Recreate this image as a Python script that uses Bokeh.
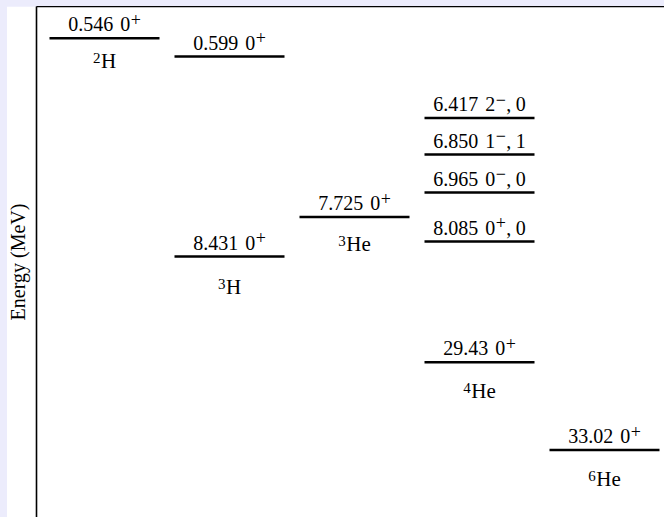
from bokeh.plotting import figure
from bokeh.models import Range1d, LinearAxis, FixedTicker, ColumnDataSource
from bokeh.embed import file_html
from bokeh.resources import INLINE
from bokeh.core.properties import value

# Nuclides (columns) and their label positions on the diagram
nuclide_mass = ["2", "3", "3", "4", "6"]
nuclide_symbol = ["H", "H", "He", "He", "He"]
nuclide_col = [0, 1, 2, 3, 4]
nuclide_label_pos = [54, 280.5, 237.5, 384, 472.5]

# Levels: column, energy (MeV), spin J, parity, isospin T, diagram position
level_col = [0, 1, 1, 2, 3, 3, 3, 3, 3, 4]
level_energy = ["0.546", "0.599", "8.431", "7.725", "6.417", "6.850", "6.965", "8.085", "29.43", "33.02"]
level_J = ["0", "0", "0", "0", "2", "1", "0", "0", "0", "0"]
level_parity = ["+", "+", "+", "+", "−", "−", "−", "+", "+", "+"]
level_T = ["", "", "", "", "0", "1", "0", "0", "", ""]
level_pos = [31.7, 50, 250, 210.5, 111.5, 148, 186, 235, 355.7, 443.5]

y_label = "Energy (MeV)"

# ---- style constants ----
FONT_NAME = "Liberation Serif"
FONT = value(FONT_NAME)
MAIN = 20      # px, level labels
NUC = 21       # px, nuclide labels
SUP = 15       # px, superscript mass numbers
SIGN = 18      # px, superscript parity signs
HALF = 0.44    # half width of a level line (column units)
GAP_ABOVE = 14
ADV = {d: 0.5 for d in "0123456789"}
ADV.update({".": 0.25, ",": 0.25, " ": 0.25, "+": 0.564, "−": 0.564, "H": 0.722, "e": 0.444})


def width(s, size):
    return sum(ADV[c] for c in s) * size


main_parts = dict(x=[], y=[], dx=[], t=[])
sign_parts = dict(x=[], y=[], dx=[], t=[])
sup_parts = dict(x=[], y=[], dx=[], t=[])
nuc_parts = dict(x=[], y=[], dx=[], t=[])

for c, e, j, par, t, pos in zip(level_col, level_energy, level_J, level_parity, level_T, level_pos):
    pieces = [(e, "m"), (7, "gap"), (j, "m"), (0.5, "gap"), (par, "s")]
    if t:
        pieces += [(0.5, "gap"), (",", "m"), (4.5, "gap"), (t, "m")]
    total = 0
    for s, kind in pieces:
        total += s if kind == "gap" else width(s, MAIN if kind == "m" else SIGN)
    off = -total / 2
    ly = pos - GAP_ABOVE
    for s, kind in pieces:
        if kind == "gap":
            off += s
            continue
        if kind == "m":
            d, w = main_parts, width(s, MAIN)
            d["y"].append(ly)
        else:
            d, w = sign_parts, width(s, SIGN)
            d["y"].append(ly - 5)
        d["x"].append(c)
        d["dx"].append(off)
        d["t"].append(s)
        off += w

for c, m, sym, pos in zip(nuclide_col, nuclide_mass, nuclide_symbol, nuclide_label_pos):
    wm = width(m, SUP)
    ws = width(sym, NUC)
    off = -(wm + ws + 0.5) / 2
    sup_parts["x"].append(c)
    sup_parts["y"].append(pos - 3)
    sup_parts["dx"].append(off)
    sup_parts["t"].append(m)
    nuc_parts["x"].append(c)
    nuc_parts["y"].append(pos)
    nuc_parts["dx"].append(off + wm + 0.5)
    nuc_parts["t"].append(sym)

FW, FH = 628, 511
p = figure(frame_width=FW, frame_height=FH, output_backend="svg", toolbar_location=None,
           x_range=Range1d(-0.544, 4.48), y_range=Range1d(FH, 0),
           x_axis_type=None, min_border_left=33, min_border_right=0,
           min_border_top=0, min_border_bottom=0)
p.grid.visible = False
p.outline_line_color = None
p.background_fill_color = "white"
p.border_fill_color = "white"

ya = p.yaxis[0]
ya.ticker = FixedTicker(ticks=[])
ya.major_tick_line_color = None
ya.minor_tick_line_color = None
ya.major_tick_out = 0
ya.major_tick_in = 0
ya.major_label_text_font_size = "0px"
ya.axis_line_width = 1.6
ya.axis_line_color = "black"
ya.axis_label = y_label
ya.axis_label_text_font = FONT_NAME
ya.axis_label_text_font_style = "normal"
ya.axis_label_text_font_size = "20px"
ya.axis_label_text_color = "black"
ya.axis_label_standoff = 8

top = LinearAxis(ticker=FixedTicker(ticks=[]), major_tick_line_color=None,
                 minor_tick_line_color=None, major_label_text_font_size="0px",
                 axis_line_width=1.6, axis_line_color="black",
                 major_tick_out=0, major_tick_in=0)
p.add_layout(top, "above")

lev = ColumnDataSource(dict(
    x0=[c - HALF for c in level_col],
    x1=[c + HALF for c in level_col],
    y=level_pos,
))
p.segment(x0="x0", x1="x1", y0="y", y1="y", source=lev, line_color="black", line_width=2.5)

for parts, size in ((main_parts, MAIN), (sign_parts, SIGN), (sup_parts, SUP), (nuc_parts, NUC)):
    p.text(x="x", y="y", text="t", x_offset="dx", source=ColumnDataSource(parts),
           text_align="left", text_baseline="middle", text_font=FONT,
           text_font_size=f"{size}px", text_color="black")

html = file_html(p, INLINE)
style = ("<style>html, body { background-color: #ececfc !important; overflow: hidden !important; }"
         " body { margin: 0 !important; padding: 6px 0 0 3px !important; }"
         " body::before { content: ''; position: fixed; left: 0; top: 0; bottom: 0; width: 7px;"
         " background: #ececfc; z-index: 1000; }</style>")
html = html.replace("</head>", style + "</head>", 1)
open("out.html", "w").write(html)
